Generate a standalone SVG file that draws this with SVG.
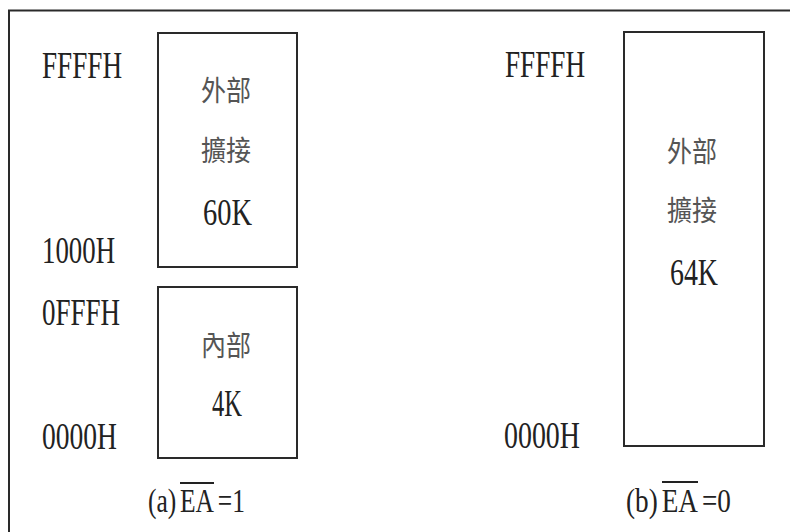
<svg xmlns="http://www.w3.org/2000/svg" width="790" height="532" viewBox="0 0 790 532">
<style>
.box{fill:none;stroke:#2a2a2a;stroke-width:2}
.frame{fill:none;stroke:#2a2a2a;stroke-width:2}
.lbl{font-family:"Liberation Serif","Times New Roman",serif;fill:#222;font-size:38px}
.cap{font-family:"Liberation Serif","Times New Roman",serif;fill:#222;font-size:34px}
.cjk{font-family:"Noto Sans CJK TC","Noto Sans CJK SC",sans-serif;fill:#555;font-size:28px;dominant-baseline:central}
.ol{stroke:#222;stroke-width:2}
</style>
<rect width="790" height="532" fill="#ffffff"/>
<path class="frame" d="M9 532 V10.5 H790"/>
<g id="connectors"/>
<g id="addr-a">
<text class="lbl" x="42" y="78" textLength="80" lengthAdjust="spacingAndGlyphs">FFFFH</text>
<text class="lbl" x="42" y="263" textLength="73" lengthAdjust="spacingAndGlyphs">1000H</text>
<text class="lbl" x="42" y="325" textLength="78" lengthAdjust="spacingAndGlyphs">0FFFH</text>
<text class="lbl" x="42" y="449" textLength="75" lengthAdjust="spacingAndGlyphs">0000H</text>
</g>
<g id="node-a-ext">
<rect class="box" x="158" y="33" width="139" height="234"/>
<text class="cjk" x="201" y="88.5" textLength="50" lengthAdjust="spacingAndGlyphs">外部</text>
<text class="cjk" x="201" y="149" textLength="50" lengthAdjust="spacingAndGlyphs">擴接</text>
<text class="lbl" x="203" y="225" font-size="39" textLength="49" lengthAdjust="spacingAndGlyphs">60K</text>
</g>
<g id="node-a-int">
<rect class="box" x="158" y="287" width="139" height="171"/>
<text class="cjk" x="201" y="343.5" textLength="50" lengthAdjust="spacingAndGlyphs">內部</text>
<text class="lbl" x="212" y="416" font-size="37" textLength="30" lengthAdjust="spacingAndGlyphs">4K</text>
</g>
<g id="caption-a">
<text class="cap" transform="translate(148,512) scale(0.75,1)" x="0" y="0">(a)<tspan dx="5">EA</tspan><tspan dx="5">=1</tspan></text>
<line class="ol" x1="180" y1="483" x2="214" y2="483"/>
</g>
<g id="addr-b">
<text class="lbl" x="505" y="77" textLength="80" lengthAdjust="spacingAndGlyphs">FFFFH</text>
<text class="lbl" x="504" y="448" textLength="76" lengthAdjust="spacingAndGlyphs">0000H</text>
</g>
<g id="node-b-ext">
<rect class="box" x="624" y="32" width="140" height="414"/>
<text class="cjk" x="667" y="150" textLength="50" lengthAdjust="spacingAndGlyphs">外部</text>
<text class="cjk" x="667" y="209" textLength="50" lengthAdjust="spacingAndGlyphs">擴接</text>
<text class="lbl" x="670" y="285" font-size="39" textLength="48" lengthAdjust="spacingAndGlyphs">64K</text>
</g>
<g id="caption-b">
<text class="cap" transform="translate(626,512) scale(0.8,1)" x="0" y="0">(b)<tspan dx="5">EA</tspan><tspan dx="5">=0</tspan></text>
<line class="ol" x1="662" y1="482" x2="698" y2="482"/>
</g>
</svg>
